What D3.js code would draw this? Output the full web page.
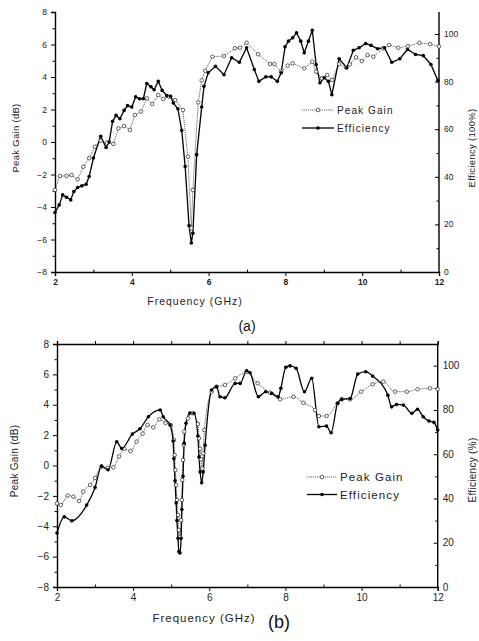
<!DOCTYPE html>
<html>
<head>
<meta charset="utf-8">
<script src="https://cdnjs.cloudflare.com/ajax/libs/d3/7.8.5/d3.min.js"></script>
<style>
  body { margin: 0; background: #fff; }
  svg { display: block; font-family: "Liberation Sans", Arial, sans-serif; }
</style>
</head>
<body>
<script>
// panel (a) data
var gainA_f = [2.0,2.13,2.30,2.43,2.59,2.74,2.89,3.04,3.19,3.35,3.52,3.65,3.80,3.95,4.08,4.24,4.39,4.53,4.69,4.82,4.97,5.13,5.33,5.46,5.55,5.59,5.73,5.82,5.91,6.10,6.40,6.69,6.82,6.99,7.29,7.60,7.71,7.89,8.06,8.19,8.49,8.70,8.80,8.95,9.09,9.22,9.40,9.58,9.68,9.84,9.99,10.14,10.29,10.55,10.70,10.94,11.19,11.49,11.77,12.0];
var gainA = [-2.95,-2.09,-2.09,-2.03,-2.3,-1.52,-1.0,-0.29,0.08,-0.04,-0.12,0.84,0.98,0.74,1.66,1.87,2.69,2.34,2.89,2.65,2.79,2.58,1.97,-0.9,-5.3,-2.95,2.44,3.8,4.39,5.25,5.29,5.77,5.8,6.11,5.4,4.8,4.8,4.33,4.7,4.84,4.53,4.94,4.33,3.92,4.12,3.82,4.8,4.57,4.78,5.21,4.98,5.35,5.25,5.77,5.97,5.8,5.9,6.1,6.02,5.88];
var effA_f = [2.0,2.11,2.20,2.30,2.41,2.49,2.59,2.70,2.81,2.89,3.0,3.19,3.33,3.41,3.50,3.59,3.69,3.80,3.89,4.0,4.10,4.20,4.30,4.39,4.50,4.58,4.69,4.79,4.91,5.01,5.08,5.20,5.30,5.39,5.49,5.55,5.59,5.69,5.82,5.88,5.99,6.18,6.40,6.60,6.80,6.99,7.19,7.31,7.49,7.63,7.79,7.89,7.99,8.08,8.19,8.29,8.40,8.49,8.60,8.70,8.80,8.90,9.01,9.12,9.21,9.40,9.60,9.77,9.92,10.09,10.23,10.40,10.58,10.77,10.98,11.18,11.39,11.59,11.79,11.97];
var effA = [25.0,28.2,32.4,31.4,30.3,33.8,35.5,36.2,36.9,40.1,47.9,57,52.3,54.6,63.3,65.8,64.4,67.9,69.9,69.3,73.6,72.8,72.8,79.2,77.8,76.6,80.1,76.3,74.1,73.8,71,68.6,59.5,44.3,19.5,12.2,16.3,49.3,69.3,78,83.7,86.4,82.9,90,88.1,94.2,85.1,80.1,82,82,80.1,83.7,94.6,97,98.4,100.5,97,92.1,97,101.6,87.2,79.5,81.6,80.1,74.5,89.6,85.8,93.2,94.2,96,95.2,93.8,94.2,88.1,89.6,93.5,91.4,90.9,87.2,80.5];

// panel (b) data
var gainB_f = [2.0,2.1,2.28,2.43,2.58,2.69,2.87,3.0,3.17,3.33,3.48,3.63,3.77,3.93,4.09,4.25,4.38,4.53,4.69,4.85,4.99,5.07,5.09,5.11,5.13,5.15,5.18,5.20,5.23,5.26,5.28,5.29,5.31,5.33,5.34,5.44,5.56,5.70,5.73,5.76,5.78,5.82,5.84,5.87,6.06,6.19,6.41,6.68,6.98,7.27,7.60,7.86,8.21,8.47,8.78,8.88,9.08,9.37,9.48,9.70,9.99,10.29,10.57,10.88,11.19,11.47,11.80,12.0];
var gainB = [-2.5,-2.6,-1.98,-2.05,-2.34,-1.72,-1.28,-0.82,-0.08,-0.15,-0.12,0.6,1.09,0.95,1.57,2.1,2.67,2.51,3.04,2.8,2.65,1.68,0.69,-0.3,-1.28,-2.27,-3.26,-4.25,-4.7,-3.6,-2.27,-0.95,0.36,1.35,2.23,3.1,3.44,2.73,1.79,1.1,0.4,-0.2,0.8,2.34,4.86,5.19,5.3,5.74,6.17,5.41,4.79,4.36,4.53,4.13,3.65,3.26,3.26,4.09,4.36,4.36,4.86,5.35,5.52,4.86,4.86,5.02,5.08,5.02];
var effB_f = [2.0,2.19,2.39,2.78,3.0,3.17,3.34,3.57,3.70,3.98,4.18,4.40,4.71,4.79,4.97,5.05,5.07,5.10,5.13,5.15,5.18,5.20,5.23,5.26,5.28,5.31,5.34,5.39,5.49,5.60,5.70,5.73,5.76,5.80,5.84,5.89,6.06,6.19,6.28,6.41,6.68,6.81,6.98,7.07,7.29,7.48,7.64,7.81,7.88,8.01,8.12,8.28,8.50,8.69,8.88,9.08,9.20,9.37,9.48,9.70,9.90,10.11,10.29,10.69,10.79,10.92,11.10,11.32,11.47,11.62,11.77,11.90,12.0];
var effB = [24.4,31.7,29.9,37.0,45,54.6,53,65.6,62.6,69.1,71.5,76.9,80,76.9,73.2,66,58,48,38,30,22,16,15.4,22,35,50,65,74,78.6,78.5,68.2,58.8,52,47.1,52,64.1,89,90.5,86,85.5,92,92,97.7,96.8,86,88.2,87.5,86,89.8,99.3,99.9,98.8,88.2,94.3,72.4,72.7,69.7,83,84.8,85.2,96.2,97.3,95.3,86.7,81.4,82.5,82.2,78.5,80.3,76.9,75,74.4,70.9];

// ticks and labels
var freqTicks = [2, 4, 6, 8, 10, 12];
var gainTicks = [-8, -6, -4, -2, 0, 2, 4, 6, 8];
var effTicks = [0, 20, 40, 60, 80, 100];
var seriesNames = ["Peak Gain", "Efficiency"];

var W = 479, H = 641;
var svg = d3.select("body").append("svg").attr("width", W).attr("height", H);

function zip(xs, ys) {
	return xs.map(function(x, i) { return [x, ys[i]]; });
}

function drawPanel(p) {
	var g = svg.append("g");
	var x = d3.scaleLinear().domain([2, 12]).range([p.left, p.right]);
	var yL = d3.scaleLinear().domain([-8, 8]).range([p.bottom, p.top]);
	var yR = d3.scaleLinear().domain([0, 100]).range([p.bottom, p.y100]);
	var minorX = d3.range(3, 12, 2);
	var minorL = d3.range(-7, 8, 2);
	var minorR = d3.range(10, 110, 20);

	// bottom axis
	g.append("g").attr("transform", "translate(0," + p.bottom + ")")
		.call(d3.axisBottom(x).tickValues(freqTicks).tickSize(4).tickPadding(3).tickFormat(d3.format("d")))
		.call(function(s) {
			s.select(".domain").attr("stroke-width", p.axisW);
			s.selectAll("text").attr("font-size", p.tickFs).attr("font-weight", p.tickBold ? "bold" : "normal").attr("fill", "#222");
		});
	g.append("g").attr("transform", "translate(0," + p.bottom + ")")
		.call(d3.axisTop(x).tickValues(minorX).tickSize(2.5).tickFormat(""))
		.call(function(s) { s.select(".domain").remove(); });

	// top frame (panel b)
	if (p.topFrame) {
		g.append("g").attr("transform", "translate(0," + p.top + ")")
			.call(d3.axisTop(x).tickValues(d3.range(2, 13, 1)).tickSize(3).tickFormat(""))
			.call(function(s) { s.select(".domain").attr("stroke-width", p.axisW); });
	}

	// left axis
	g.append("g").attr("transform", "translate(" + p.left + ",0)")
		.call(d3.axisLeft(yL).tickValues(gainTicks).tickSize(4).tickPadding(4).tickFormat(d3.format("d")))
		.call(function(s) {
			s.select(".domain").attr("stroke-width", p.axisW);
			s.selectAll("text").attr("font-size", p.tickFs).attr("fill", "#222");
		});
	g.append("g").attr("transform", "translate(" + p.left + ",0)")
		.call(d3.axisLeft(yL).tickValues(minorL).tickSize(2.5).tickFormat(""))
		.call(function(s) { s.select(".domain").remove(); });

	// right axis, ticks pointing inward
	var rAxis = g.append("g").attr("transform", "translate(" + p.right + ",0)")
		.call(d3.axisLeft(yR).tickValues(effTicks).tickSize(4).tickFormat(""))
		.call(function(s) { s.select(".domain").remove(); });
	g.append("g").attr("transform", "translate(" + p.right + ",0)")
		.call(d3.axisLeft(yR).tickValues(minorR).tickSize(2.5).tickFormat(""))
		.call(function(s) { s.select(".domain").remove(); });
	g.append("line").attr("x1", p.right).attr("x2", p.right).attr("y1", p.top).attr("y2", p.bottom)
		.attr("stroke", "#000").attr("stroke-width", p.axisW);
	g.selectAll(".rlab").data(effTicks).enter().append("text")
		.attr("x", p.right + 5).attr("y", function(d) { return yR(d); }).attr("dy", "0.35em")
		.attr("font-size", p.tickFs).attr("fill", "#222").text(function(d) { return d; });

	// axis titles
	g.append("text").attr("x", p.xTitleX).attr("y", p.xTitleY).attr("text-anchor", "middle")
		.attr("font-size", p.xTitleFs).attr("letter-spacing", p.spacing).attr("fill", "#222").text("Frequency (GHz)");
	g.append("text").attr("transform", "translate(" + p.lTitleX + "," + p.lTitleY + ") rotate(-90)")
		.attr("text-anchor", "middle").attr("font-size", p.yTitleFs).attr("letter-spacing", 0.3)
		.attr("fill", "#222").text("Peak Gain (dB)");
	g.append("text").attr("transform", "translate(" + p.rTitleX + "," + p.rTitleY + ") rotate(-90)")
		.attr("text-anchor", "middle").attr("font-size", p.yTitleFs).attr("letter-spacing", 0.3)
		.attr("fill", "#222").text(p.rTitle);
	g.append("text").attr("x", p.capX).attr("y", p.capY).attr("text-anchor", "middle")
		.attr("font-size", p.capFs).attr("fill", "#111").text(p.caption);

	// lines
	var curve = p.smooth ? d3.curveMonotoneX : d3.curveLinear;
	var lineG = d3.line().curve(curve).x(function(d) { return x(d[0]); }).y(function(d) { return yL(d[1]); });
	var lineE = d3.line().curve(curve).x(function(d) { return x(d[0]); }).y(function(d) { return yR(d[1]); });
	var gd = zip(p.gf, p.gv), ed = zip(p.ef, p.ev);

	g.append("path").datum(gd).attr("d", lineG).attr("fill", "none")
		.attr("stroke", "#444").attr("stroke-width", 0.8).attr("stroke-dasharray", "1.2,0.8");
	g.append("path").datum(ed).attr("d", lineE).attr("fill", "none")
		.attr("stroke", "#000").attr("stroke-width", 1.3);

	g.selectAll(".pg").data(gd).enter().append("circle")
		.attr("cx", function(d) { return x(d[0]); }).attr("cy", function(d) { return yL(d[1]); })
		.attr("r", 1.8).attr("fill", "#fff").attr("stroke", "#222").attr("stroke-width", 0.7);
	g.selectAll(".ef").data(ed).enter().append("circle")
		.attr("cx", function(d) { return x(d[0]); }).attr("cy", function(d) { return yR(d[1]); })
		.attr("r", 1.8).attr("fill", "#000");

	// legend
	var lg = g.append("g");
	lg.append("line").attr("x1", p.legX).attr("x2", p.legX + p.legLen).attr("y1", p.legY).attr("y2", p.legY)
		.attr("stroke", "#444").attr("stroke-width", 0.8).attr("stroke-dasharray", "1.2,0.8");
	lg.append("circle").attr("cx", p.legX + p.legLen / 2).attr("cy", p.legY).attr("r", 1.8)
		.attr("fill", "#fff").attr("stroke", "#222").attr("stroke-width", 0.7);
	lg.append("line").attr("x1", p.legX).attr("x2", p.legX + p.legLen).attr("y1", p.legY + p.legGap).attr("y2", p.legY + p.legGap)
		.attr("stroke", "#000").attr("stroke-width", 1.3);
	lg.append("circle").attr("cx", p.legX + p.legLen / 2).attr("cy", p.legY + p.legGap).attr("r", 1.8).attr("fill", "#000");
	lg.selectAll("text").data(seriesNames).enter().append("text")
		.attr("x", p.legX + p.legLen + 3).attr("y", function(d, i) { return p.legY + i * p.legGap; })
		.attr("dy", "0.35em").attr("font-size", p.legFs).attr("letter-spacing", 1.1).attr("fill", "#222")
		.text(function(d) { return d; });
}

drawPanel({
	left: 55, right: 439, top: 12, bottom: 272, y100: 34,
	axisW: 1.4, tickFs: 8.5, tickBold: true, topFrame: false, smooth: false,
	xTitleX: 195, xTitleY: 305, xTitleFs: 10.5, spacing: 1,
	lTitleX: 19, lTitleY: 138, rTitleX: 475, rTitleY: 148, yTitleFs: 9.5, rTitle: "Efficiency (100%)",
	capX: 247, capY: 331, capFs: 14, caption: "(a)",
	gf: gainA_f, gv: gainA, ef: effA_f, ev: effA,
	legX: 302, legY: 110, legLen: 32, legGap: 18, legFs: 10
});

drawPanel({
	left: 57, right: 437.7, top: 344, bottom: 587, y100: 365.7,
	axisW: 1.4, tickFs: 10, tickBold: false, topFrame: true, smooth: true,
	xTitleX: 204, xTitleY: 622, xTitleFs: 11.5, spacing: 1,
	lTitleX: 18, lTitleY: 461, rTitleX: 476, rTitleY: 470, yTitleFs: 10, rTitle: "Efficiency (%)",
	capX: 279, capY: 628, capFs: 18, caption: "(b)",
	gf: gainB_f, gv: gainB, ef: effB_f, ev: effB,
	legX: 307, legY: 477, legLen: 30, legGap: 17.5, legFs: 11.5
});
</script>
</body>
</html>
